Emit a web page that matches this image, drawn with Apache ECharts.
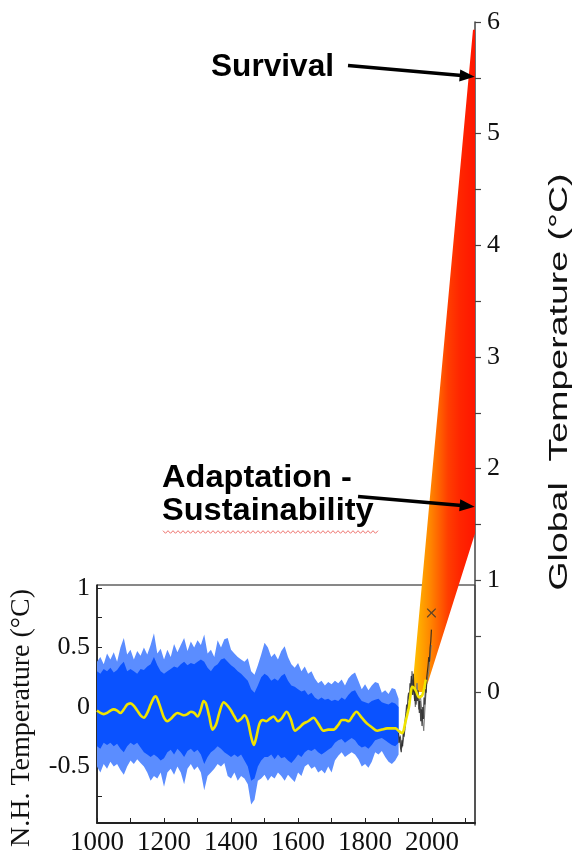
<!DOCTYPE html>
<html><head><meta charset="utf-8">
<script src="https://cdn.jsdelivr.net/npm/echarts@6/dist/echarts.min.js"></script>
<style>html,body{margin:0;padding:0;background:#fff}#c{width:575px;height:856px}</style>
</head><body><div id="c"></div>
<script>
// ---------- DATA ----------
const xTickLabels = [1000, 1200, 1400, 1600, 1800, 2000];
const xMinorTicks = [1000, 1100, 1200, 1300, 1400, 1500, 1600, 1700, 1800, 1900, 2000, 2100];
const nhTickLabels = [-0.5, 0, 0.5, 1];
const nhMinorTicks = [-0.75, -0.5, -0.25, 0, 0.25, 0.5, 0.75, 1];
const globalTickLabels = [0, 1, 2, 3, 4, 5, 6];
const globalMinorTicks = [0, 0.5, 1, 1.5, 2, 2.5, 3, 3.5, 4, 4.5, 5, 5.5, 6];

// reconstruction envelope (N.H. temperature, °C), decadal
const blueYears = [1000,1010,1020,1030,1040,1050,1060,1070,1080,1090,
 1100,1110,1120,1130,1140,1150,1160,1170,1180,1190,
 1200,1210,1220,1230,1240,1250,1260,1270,1280,1290,
 1300,1310,1320,1330,1340,1350,1360,1370,1380,1390,
 1400,1410,1420,1430,1440,1450,1460,1470,1480,1490,
 1500,1510,1520,1530,1540,1550,1560,1570,1580,1590,
 1600,1610,1620,1630,1640,1650,1660,1670,1680,1690,
 1700,1710,1720,1730,1740,1750,1760,1770,1780,1790,
 1800,1810,1820,1830,1840,1850,1860,1870,1880,1890,
 1900];
const outerHigh = [0.38,0.42,0.36,0.45,0.40,0.46,0.38,0.50,0.58,0.44,
 0.48,0.40,0.47,0.43,0.50,0.44,0.52,0.62,0.45,0.49,
 0.40,0.48,0.42,0.53,0.46,0.52,0.58,0.47,0.55,0.50,
 0.56,0.52,0.61,0.45,0.48,0.42,0.56,0.50,0.57,0.58,
 0.48,0.45,0.42,0.40,0.38,0.41,0.30,0.27,0.35,0.44,
 0.54,0.50,0.42,0.45,0.40,0.47,0.51,0.42,0.36,0.33,
 0.37,0.30,0.34,0.28,0.30,0.24,0.20,0.22,0.18,0.21,
 0.19,0.22,0.20,0.23,0.18,0.24,0.27,0.29,0.22,0.15,
 0.19,0.14,0.18,0.21,0.20,0.12,0.14,0.11,0.16,0.15,
 0.07];
const outerLow = [-0.50,-0.55,-0.48,-0.52,-0.46,-0.50,-0.48,-0.53,-0.57,-0.50,
 -0.45,-0.48,-0.44,-0.47,-0.50,-0.55,-0.62,-0.58,-0.60,-0.55,
 -0.67,-0.55,-0.52,-0.57,-0.50,-0.55,-0.65,-0.52,-0.48,-0.53,
 -0.50,-0.55,-0.70,-0.58,-0.55,-0.52,-0.48,-0.50,-0.47,-0.58,
 -0.60,-0.55,-0.62,-0.58,-0.60,-0.65,-0.82,-0.78,-0.62,-0.60,
 -0.57,-0.62,-0.58,-0.60,-0.55,-0.58,-0.62,-0.57,-0.60,-0.63,
 -0.55,-0.58,-0.50,-0.48,-0.52,-0.50,-0.55,-0.53,-0.56,-0.50,
 -0.55,-0.45,-0.41,-0.38,-0.42,-0.40,-0.38,-0.40,-0.44,-0.50,
 -0.48,-0.51,-0.46,-0.38,-0.40,-0.37,-0.42,-0.46,-0.48,-0.45,
 -0.40];
const innerHigh = [0.30,0.28,0.32,0.30,0.33,0.29,0.31,0.35,0.38,0.30,
 0.32,0.30,0.28,0.32,0.31,0.34,0.36,0.42,0.35,0.30,
 0.28,0.30,0.32,0.34,0.33,0.36,0.38,0.35,0.37,0.36,
 0.38,0.40,0.38,0.33,0.30,0.34,0.36,0.40,0.41,0.38,
 0.35,0.33,0.30,0.28,0.25,0.22,0.15,0.12,0.18,0.25,
 0.28,0.26,0.22,0.24,0.22,0.26,0.28,0.22,0.18,0.17,
 0.15,0.13,0.14,0.10,0.12,0.08,0.06,0.08,0.06,0.07,
 0.05,0.06,0.05,0.08,0.06,0.10,0.13,0.14,0.09,0.05,
 0.04,0.03,0.05,0.06,0.07,0.04,0.03,0.02,0.04,0.03,
 0.00];
const innerLow = [-0.33,-0.35,-0.30,-0.32,-0.30,-0.33,-0.31,-0.35,-0.38,-0.33,
 -0.30,-0.32,-0.30,-0.34,-0.38,-0.40,-0.42,-0.40,-0.42,-0.45,
 -0.43,-0.38,-0.36,-0.40,-0.35,-0.38,-0.42,-0.37,-0.35,-0.38,
 -0.36,-0.40,-0.48,-0.42,-0.38,-0.36,-0.33,-0.35,-0.38,-0.40,
 -0.42,-0.40,-0.42,-0.40,-0.45,-0.50,-0.62,-0.60,-0.50,-0.45,
 -0.42,-0.42,-0.40,-0.44,-0.40,-0.43,-0.42,-0.45,-0.47,-0.44,
 -0.40,-0.42,-0.38,-0.36,-0.37,-0.35,-0.38,-0.40,-0.38,-0.36,
 -0.34,-0.30,-0.28,-0.27,-0.30,-0.28,-0.26,-0.28,-0.32,-0.34,
 -0.33,-0.35,-0.32,-0.28,-0.27,-0.26,-0.28,-0.30,-0.32,-0.33,
 -0.30];

// smoothed (yellow) series
const smoothYears = [1000,1010,1020,1030,1040,1050,1060,1070,1080,1090,1100,1110,1120,1130,1140,1150,1160,1170,1175,1180,1190,
 1200,1210,1220,1230,1240,1250,1260,1270,1280,1290,1300,1310,1318,1325,1335,1345,1355,1365,1378,1390,
 1400,1410,1420,1430,1440,1450,1460,1468,1475,1485,1495,1505,1515,1527,1540,1550,1566,1578,1591,1605,
 1616,1630,1646,1660,1676,1690,1706,1720,1731,1741,1751,1762,1774,1790,1806,1820,1836,1850,1866,1880,
 1891,1900,1911,1920,1931,1941,1951,1961,1971,1981];
const smoothVals = [-0.03,-0.05,-0.06,-0.05,-0.03,-0.02,-0.03,-0.05,-0.02,0.02,0.03,0.01,-0.03,-0.07,-0.09,-0.05,0.02,0.08,0.09,0.07,-0.01,
 -0.09,-0.12,-0.10,-0.07,-0.05,-0.06,-0.07,-0.06,-0.04,-0.05,-0.08,-0.02,0.05,0.03,-0.08,-0.19,-0.15,-0.05,0.04,0.01,
 -0.03,-0.08,-0.12,-0.10,-0.07,-0.12,-0.25,-0.32,-0.26,-0.14,-0.11,-0.12,-0.10,-0.08,-0.12,-0.10,-0.04,-0.10,-0.20,-0.17,
 -0.14,-0.12,-0.09,-0.14,-0.20,-0.19,-0.19,-0.15,-0.11,-0.11,-0.12,-0.08,-0.04,-0.09,-0.14,-0.17,-0.20,-0.19,-0.18,-0.18,
 -0.18,-0.20,-0.22,-0.13,0.00,0.17,0.14,0.08,0.10,0.23];

// instrumental record (black)
const instYears = [1900,1902,1904,1906,1908,1910,1912,1914,1916,1918,1920,1922,1924,1926,1928,1930,1932,1934,1936,1938,
 1940,1942,1944,1946,1948,1950,1952,1954,1956,1958,1960,1962,1964,1966,1968,1970,1972,1974,1976,1978,
 1980,1982,1984,1986,1988,1990,1992,1994,1996,1998];
const instVals = [-0.22,-0.30,-0.25,-0.35,-0.38,-0.28,-0.33,-0.20,-0.25,-0.15,-0.10,-0.05,0.02,-0.02,0.08,0.12,0.05,0.20,0.15,0.26,
 0.22,0.10,0.28,0.12,0.05,0.15,0.02,0.12,0.05,0.14,0.08,-0.05,0.05,-0.12,-0.02,-0.16,0.00,-0.10,0.08,0.02,
 0.15,0.12,0.25,0.30,0.35,0.42,0.38,0.50,0.55,0.65];
const inst2Years = [1900,1905,1910,1915,1920,1925,1930,1935,1940,1945,1950,1955,1960,1965,1970,1975,1980,1985,1990,1995,1998];
const inst2Vals = [-0.30,-0.24,-0.34,-0.26,-0.18,-0.02,0.02,0.10,0.30,0.18,0.00,0.20,-0.02,0.10,-0.05,-0.20,0.05,0.22,0.30,0.45,0.52];
const markerYear = [1998];
const markerVal = [0.79];

// projection fan (Global temperature, °C)
const fanYears = [1940, 2122, 2128, 2128, 1988, 1976];
const fanTemps = [0.00, 5.93, 5.93, 1.42, 0.09, 0.00];

// annotations
const notes = [
  {lines: ['Survival'], from: [1749, 5.61], to: [2127, 5.51]},
  {lines: ['Adaptation -', 'Sustainability'], from: [1779, 1.75], to: [2127, 1.66]}
];

// ---------- CHART ----------
const chart = echarts.init(document.getElementById('c'), null, {renderer: 'canvas'});
const serif = 'Liberation Serif';

function bandItem(hi, lo, color) {
  return function (params, api) {
    const pts = [];
    for (let i = 0; i < blueYears.length; i++) pts.push(api.coord([blueYears[i], hi[i]]));
    for (let i = blueYears.length - 1; i >= 0; i--) pts.push(api.coord([blueYears[i], lo[i]]));
    return {type: 'polygon', shape: {points: pts}, style: {fill: color}};
  };
}

const fanGradient = new echarts.graphic.LinearGradient(0, 0, 1, 0, [
  {offset: 0, color: '#ffc800'},
  {offset: 0.13, color: '#ffa800'},
  {offset: 0.29, color: '#ff8600'},
  {offset: 0.44, color: '#ff6000'},
  {offset: 0.57, color: '#ff3e00'},
  {offset: 0.76, color: '#ff2600'},
  {offset: 1, color: '#ff1600'}
]);

const option = {
  animation: false,
  backgroundColor: '#fff',
  grid: [
    {left: 97, right: 100, top: 585, bottom: 31, show: true, borderColor: '#111', borderWidth: 1, backgroundColor: 'transparent'},
    {left: 97, right: 100, top: 22, bottom: 31, show: false}
  ],
  xAxis: [
    {gridIndex: 0, type: 'value', min: 1000, max: 2128,
      axisLine: {show: true, onZero: false, lineStyle: {color: '#222', width: 2}},
      axisTick: {show: true, inside: true, length: 5, customValues: xMinorTicks, lineStyle: {color: '#222'}},
      axisLabel: {customValues: xTickLabels, fontFamily: serif, fontSize: 27, color: '#111', margin: 6, formatter: v => String(v)},
      splitLine: {show: false}},
    {gridIndex: 1, type: 'value', min: 1000, max: 2128, show: false, axisLine: {onZero: false}}
  ],
  yAxis: [
    {gridIndex: 0, type: 'value', min: -0.975, max: 1.025, position: 'left',
      axisLine: {show: true, onZero: false, lineStyle: {color: '#111', width: 1.5}},
      axisTick: {show: true, inside: true, length: 5, customValues: nhMinorTicks, lineStyle: {color: '#222'}},
      axisLabel: {customValues: nhTickLabels, fontFamily: serif, fontSize: 26, color: '#111', margin: 7, formatter: v => String(v)},
      splitLine: {show: false}},
    {gridIndex: 1, type: 'value', min: -1.191, max: 6, position: 'right',
      axisLine: {show: true, onZero: false, lineStyle: {color: '#444', width: 1.5}},
      axisTick: {show: true, inside: false, length: 6, customValues: globalMinorTicks, lineStyle: {color: '#444', width: 1.2}},
      axisLabel: {customValues: globalTickLabels, fontFamily: serif, fontSize: 26, color: '#111', margin: 12, formatter: v => String(v)},
      splitLine: {show: false}}
  ],
  series: [
    {type: 'custom', name: 'fan', xAxisIndex: 1, yAxisIndex: 1, silent: true, data: [[fanYears[0], fanTemps[0]]],
      encode: {x: 0, y: 1},
      renderItem: function (params, api) {
        const pts = fanYears.map((y, i) => api.coord([y, fanTemps[i]]));
        return {type: 'polygon', shape: {points: pts}, style: {fill: fanGradient}};
      }},
    {type: 'custom', name: 'outer', xAxisIndex: 0, yAxisIndex: 0, silent: true, data: [[1000, 0]], encode: {x: 0, y: 1},
      renderItem: bandItem(outerHigh, outerLow, '#5b8dff')},
    {type: 'custom', name: 'inner', xAxisIndex: 0, yAxisIndex: 0, silent: true, data: [[1000, 0]], encode: {x: 0, y: 1},
      renderItem: bandItem(innerHigh, innerLow, '#0a52ff')},
    {type: 'line', name: 'inst2', xAxisIndex: 0, yAxisIndex: 0, symbol: 'none', silent: true,
      data: inst2Years.map((y, i) => [y, inst2Vals[i]]),
      lineStyle: {color: '#777', width: 1}},
    {type: 'line', name: 'inst', xAxisIndex: 0, yAxisIndex: 0, symbol: 'none', silent: true,
      data: instYears.map((y, i) => [y, instVals[i]]),
      lineStyle: {color: '#222', width: 1.2, opacity: 0.85}},
    {type: 'line', name: 'smooth', xAxisIndex: 0, yAxisIndex: 0, symbol: 'none', silent: true, smooth: 0.3,
      data: smoothYears.map((y, i) => [y, smoothVals[i]]),
      lineStyle: {color: '#f0e400', width: 2.6}},
    {type: 'scatter', name: 'marker', xAxisIndex: 0, yAxisIndex: 0, silent: true,
      symbol: 'path://M0,0L2,0L10,8L18,0L20,0L20,2L12,10L20,18L20,20L18,20L10,12L2,20L0,20L0,18L8,10L0,2Z',
      symbolSize: 9, itemStyle: {color: '#333'},
      data: markerYear.map((y, i) => [y, markerVal[i]])}
  ],
  graphic: [
    {type: 'text', x: 22, y: 718, rotation: Math.PI / 2, z: 100,
      style: {text: 'N.H. Temperature (°C)', font: '28px "Liberation Serif"', fill: '#111', align: 'center', verticalAlign: 'middle'}},
    {type: 'text', x: 560, y: 382, rotation: Math.PI / 2, scaleX: 1.5, z: 100,
      style: {text: 'Global  Temperature (°C)', font: '25px "Liberation Sans"', fill: '#111', align: 'center', verticalAlign: 'middle'}}
  ]
};
chart.setOption(option);

// annotation text + arrows anchored to the global-temperature axes
const extra = [];
const textPos = [{x: 211, ys: [67]}, {x: 162, ys: [478, 511]}];
notes.forEach((n, k) => {
  n.lines.forEach((t, j) => {
    extra.push({type: 'text', z: 100, x: textPos[k].x, y: textPos[k].ys[j], scaleX: k === 0 ? 1.02 : 1.05,
      style: {text: t, font: 'bold 31px "Liberation Sans"', fill: '#000', align: 'left', verticalAlign: 'middle'}});
  });
  const p1 = chart.convertToPixel({xAxisIndex: 1, yAxisIndex: 1}, n.from);
  const p2 = chart.convertToPixel({xAxisIndex: 1, yAxisIndex: 1}, n.to);
  const dx = p2[0] - p1[0], dy = p2[1] - p1[1], L = Math.hypot(dx, dy);
  const ux = dx / L, uy = dy / L, hl = 15, hw = 6;
  const bx = p2[0] - ux * hl, by = p2[1] - uy * hl;
  extra.push({type: 'line', z: 100, shape: {x1: p1[0], y1: p1[1], x2: bx + ux * 2, y2: by + uy * 2}, style: {stroke: '#000', lineWidth: 3.5}});
  extra.push({type: 'polygon', z: 100, shape: {points: [[p2[0], p2[1]], [bx - uy * hw, by + ux * hw], [bx + uy * hw, by - ux * hw]]}, style: {fill: '#000'}});
});
// spell-check squiggle under "Sustainability"
const sq = [];
for (let x = 163, i = 0; x <= 378; x += 2.5, i++) sq.push([x, 532 + (i % 2 ? 1.3 : -1.3)]);
extra.push({type: 'polyline', z: 100, shape: {points: sq}, style: {stroke: '#e8504a', lineWidth: 1, opacity: 0.8}});

chart.setOption({graphic: option.graphic.concat(extra)});
</script>
</body></html>
